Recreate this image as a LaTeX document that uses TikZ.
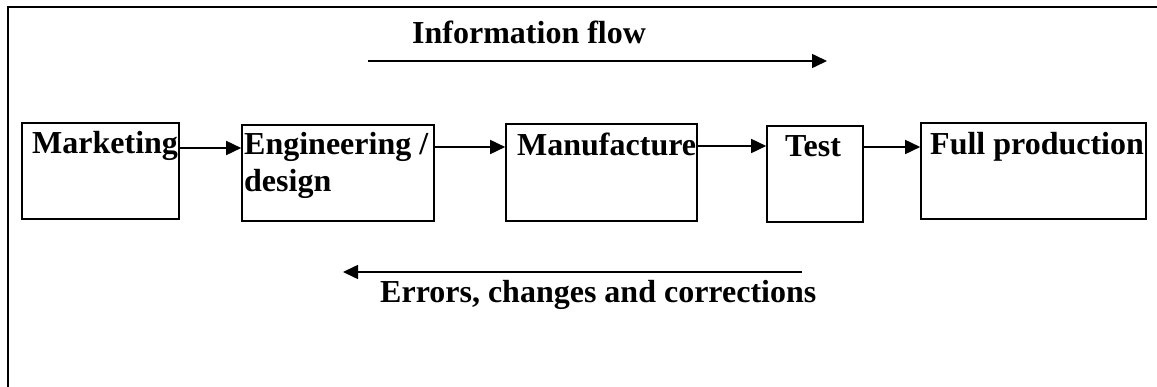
\documentclass[tikz,border=0pt]{standalone}
\usepackage{fontspec}
\setmainfont{Liberation Serif}
\usetikzlibrary{arrows.meta}
\begin{document}
\begin{tikzpicture}[x=1pt,y=-1pt,
  box/.style={draw, line width=1.6pt, inner sep=0pt, rectangle},
  lbl/.style={inner sep=0pt, anchor=base west, font=\fontsize{32}{37}\selectfont\bfseries},
  arr/.style={line width=1.6pt, -{Triangle[length=15pt,width=14pt]}},
  frame/.style={line width=2pt}]
\useasboundingbox (0,0) rectangle (1157,387);
% frame (only top and left sides visible)
\draw[frame] (8,400) -- (8,7) -- (1170,7);
% boxes
\node[box, minimum width=157pt, minimum height=96pt] (mkt) at (100.5,171) {};
\node[box, minimum width=192pt, minimum height=96pt] (eng) at (338,173) {};
\node[box, minimum width=191pt, minimum height=97pt] (man) at (601.5,172.5) {};
\node[box, minimum width=96pt, minimum height=96pt] (tst) at (815,174) {};
\node[box, minimum width=225pt, minimum height=96pt] (ful) at (1033.5,171) {};
% labels
\node[lbl] (tmkt) at (32,154) {Marketing};
\node[lbl] (teng1) at (244,155) {Engineering /};
\node[lbl] (teng2) at (244,192) {design};
\node[lbl] (tman) at (517,156) {Manufacture};
\node[lbl] (ttst) at (785,157) {Test};
\node[lbl] (tful) at (930,155) {Full production};
% connectors
\draw[arr] (mkt.east |- 0,148) -- (eng.west |- 0,148);
\draw[arr] (eng.east |- 0,147) -- (man.west |- 0,147);
\draw[arr] (man.east |- 0,146) -- (tst.west |- 0,146);
\draw[arr] (tst.east |- 0,147) -- (ful.west |- 0,147);
% information flow
\node[lbl] (tinfo) at (412,44) {Information flow};
\coordinate (if1) at (368,61);
\coordinate (if2) at (827,61);
\draw[arr] (if1) -- (if2);
% errors
\coordinate (er1) at (802,272);
\coordinate (er2) at (343,272);
\draw[arr] (er1) -- (er2);
\node[lbl] (terr) at (380,303) {Errors, changes and corrections};
\end{tikzpicture}
\end{document}
